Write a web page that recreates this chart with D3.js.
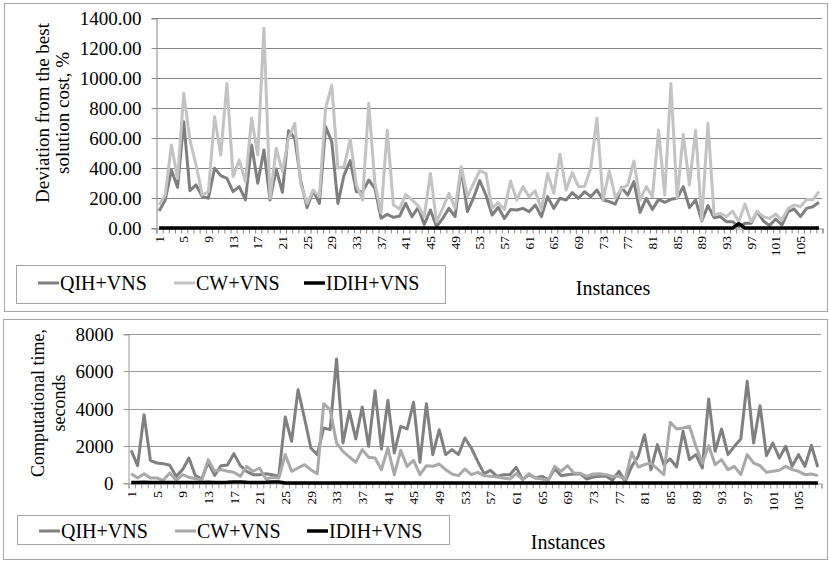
<!DOCTYPE html>
<html>
<head>
<meta charset="utf-8">
<script src="https://cdn.jsdelivr.net/npm/d3@7"></script>
<style>
  html, body { margin: 0; padding: 0; background: #fff; }
  svg { display: block; }
  text { font-family: "Liberation Serif", "Times New Roman", serif; fill: #000; }
</style>
</head>
<body>
<svg id="chart" width="829" height="561"></svg>
<script>
// Instance numbers 1..108
const instances = d3.range(1, 109);
// Every fourth instance is labelled on the category axis
const instanceTickLabels = instances.filter(d => (d - 1) % 4 === 0);

const seriesNames = ["QIH+VNS", "CW+VNS", "IDIH+VNS"];

// Deviation from the best solution cost, %
const devQIH = [113,187,387,271,709,249,287,209,198,398,349,331,242,276,187,553,298,520,187,393,
  238,649,598,309,136,249,164,676,576,164,353,449,242,242,320,264,65,91,71,80,
  164,76,136,24,120,9,64,131,76,398,109,202,316,220,87,138,64,124,120,131,
  109,153,76,209,131,198,187,236,198,242,209,253,187,176,160,269,220,309,104,198,
  124,191,171,191,198,276,136,187,47,149,69,76,42,42,9,31,31,109,47,16,
  60,20,109,127,76,131,142,171];
const devCW = [153,220,553,331,898,587,420,220,242,742,487,964,342,453,309,731,487,1331,198,531,
  376,598,698,287,164,253,209,798,953,398,409,593,287,187,831,298,100,653,153,127,
  224,187,149,76,364,42,131,231,131,409,209,298,382,364,131,169,124,313,187,276,
  209,247,124,364,231,491,253,371,276,276,398,731,187,380,202,264,287,447,187,276,
  209,653,220,964,198,624,287,653,53,698,87,98,76,113,42,160,42,109,76,64,
  93,53,131,153,142,191,187,242];
const devIDIH = [0,0,0,0,0,0,0,0,0,0,0,0,0,0,0,0,0,0,0,0,
  0,0,0,0,0,0,0,0,0,0,0,0,0,0,0,0,0,0,0,0,
  0,0,0,0,0,0,0,0,0,0,0,0,0,0,0,0,0,0,0,0,
  0,0,0,0,0,0,0,0,0,0,0,0,0,0,0,0,0,0,0,0,
  0,0,0,0,0,0,0,0,0,0,0,0,0,0,28,0,0,0,0,0,
  0,0,0,0,0,0,0,0];
const devTicks = [0,200,400,600,800,1000,1200,1400];

// Computational time, seconds
const timeQIH = [1754,931,3670,1200,1074,1038,949,358,716,1343,394,215,1110,412,931,967,1575,931,627,448,
  448,501,448,358,3544,2238,5012,3490,1880,1522,2953,2864,6659,2148,3849,2370,4081,1969,4958,1826,
  4439,1611,3043,2900,4332,1110,4260,1522,2864,1522,1790,1522,2416,1880,1163,501,680,358,448,448,
  841,179,448,268,358,179,752,394,448,483,480,215,322,358,358,143,627,90,895,1432,
  2595,716,2059,985,1289,859,2775,1253,1522,806,4511,1700,2900,1522,1969,2363,5460,2148,4153,1468,
  2148,1343,1969,895,1522,895,2023,859];
const timeCW = [501,268,501,268,268,143,537,143,448,304,233,179,1253,627,716,627,573,358,895,627,
  806,215,304,268,1522,627,806,985,716,501,4260,3938,2148,1700,1396,1110,1790,1378,1343,716,
  1879,448,1754,895,1217,448,931,895,1020,716,483,394,752,448,573,394,358,322,268,215,
  501,179,501,268,215,143,895,627,931,537,520,358,483,501,448,358,358,215,1647,859,
  985,1074,752,448,3258,2900,2954,3043,1969,1074,2005,985,1253,716,895,448,1522,1074,931,573,
  627,680,895,716,627,448,483,394];
const timeIDIH = [30,25,35,30,30,25,30,25,30,30,25,30,35,30,30,40,60,55,35,30,
  30,35,60,55,0,0,0,0,0,0,0,0,0,0,0,0,0,0,0,0,
  0,0,0,0,0,0,0,0,0,0,0,0,0,0,0,0,0,0,0,0,
  0,0,0,0,0,0,0,0,0,0,0,0,0,0,0,0,0,0,0,0,
  0,0,0,0,0,0,0,0,0,0,0,0,0,0,0,0,0,0,0,0,
  0,0,0,0,0,0,0,0];
const timeTicks = [0,2000,4000,6000,8000];

const svg = d3.select("#chart");

function drawPanel(cfg) {
  const g = svg.append("g");

  // outer frame
  g.append("rect")
    .attr("x", cfg.frame[0] + 0.5).attr("y", cfg.frame[1] + 0.5)
    .attr("width", cfg.frame[2]).attr("height", cfg.frame[3])
    .attr("fill", "#fff").attr("stroke", "#a6a6a6").attr("stroke-width", 1);

  const x = d3.scaleBand().domain(instances).range([cfg.x0, cfg.x1]).padding(0);
  const xEdge = d3.scaleLinear().domain([0, instances.length]).range([cfg.x0, cfg.x1]);
  const y = d3.scaleLinear().domain([0, cfg.yMax]).range([cfg.y0, cfg.y1]);
  const cx = d => x(d) + x.bandwidth() / 2;

  // horizontal gridlines
  g.append("g").selectAll("line").data(cfg.ticks.filter(t => t > 0)).join("line")
    .attr("x1", cfg.x0).attr("x2", cfg.x1)
    .attr("y1", d => Math.round(y(d)) + 0.5).attr("y2", d => Math.round(y(d)) + 0.5)
    .attr("stroke", cfg.grid).attr("stroke-width", 1);

  // value axis
  const yAxis = g.append("g")
    .attr("transform", `translate(${cfg.x0 + 0.5},0.5)`)
    .call(d3.axisLeft(y).tickValues(cfg.ticks).tickSize(5).tickPadding(10).tickFormat(cfg.fmt));
  yAxis.select(".domain").attr("stroke", cfg.grid);
  yAxis.selectAll(".tick line").attr("stroke", cfg.grid);
  yAxis.selectAll(".tick text")
    .style("font-family", "Liberation Serif").style("font-size", cfg.yFont + "px").attr("fill", "#000");
  yAxis.selectAll(".tick").attr("transform", d => `translate(0,${Math.round(y(d))})`);

  // category axis: tick marks at category boundaries
  const xAxis = g.append("g")
    .attr("transform", `translate(0.5,${Math.round(cfg.y0) + 0.5})`)
    .call(d3.axisBottom(xEdge).tickValues(d3.range(0, instances.length + 1)).tickSize(5).tickFormat(""));
  xAxis.select(".domain").attr("stroke", cfg.grid);
  xAxis.selectAll(".tick line").attr("stroke", cfg.grid);

  // category labels, rotated
  g.append("g").selectAll("text").data(instanceTickLabels).join("text")
    .attr("transform", d => `translate(${cx(d)},${cfg.y0 + 8}) rotate(-90)`)
    .attr("text-anchor", "end").attr("dy", "0.35em")
    .style("font-size", cfg.xFont + "px")
    .text(d => d);

  // series
  const line = d3.line().x((d, i) => cx(instances[i])).y(d => y(d));
  cfg.series.forEach((s, k) => {
    g.append("path").datum(s)
      .attr("fill", "none").attr("stroke", cfg.colors[k])
      .attr("stroke-width", k === 2 ? 3.5 : 3).attr("stroke-linejoin", "round")
      .attr("d", line);
  });

  // value axis title
  cfg.title.forEach((t, i) => {
    g.append("text")
      .attr("transform", `translate(${cfg.titleX[i]},${cfg.titleY}) rotate(-90)`)
      .attr("text-anchor", "middle")
      .style("font-size", cfg.titleFont + "px")
      .text(t);
  });

  // legend
  const lg = g.append("g");
  lg.append("rect")
    .attr("x", cfg.legend[0] + 0.5).attr("y", cfg.legend[1] + 0.5)
    .attr("width", cfg.legend[2]).attr("height", cfg.legend[3])
    .attr("fill", "#fff").attr("stroke", "#a6a6a6");
  const ly = cfg.legend[1] + cfg.legendMid;
  seriesNames.forEach((name, k) => {
    const lx = cfg.legendX[k];
    lg.append("line").attr("x1", lx).attr("x2", lx + 21).attr("y1", ly).attr("y2", ly)
      .attr("stroke", cfg.colors[k]).attr("stroke-width", k === 2 ? 3.5 : 3);
    lg.append("text").attr("x", lx + 22).attr("y", ly).attr("dy", "0.35em")
      .style("font-size", cfg.legendFont + "px").text(name);
  });

  // category axis title
  g.append("text").attr("x", cfg.instX).attr("y", cfg.instY)
    .attr("text-anchor", "middle").style("font-size", cfg.legendFont + "px").text("Instances");
}

drawPanel({
  frame: [4, 3, 823, 308],
  x0: 156, x1: 822, y0: 228, y1: 18, yMax: 1400,
  ticks: devTicks, fmt: d3.format(".2f"),
  grid: "#868686",
  colors: ["#7f7f7f", "#c3c3c3", "#000000"],
  series: [devQIH, devCW, devIDIH],
  yFont: 19, xFont: 13.5,
  title: ["Deviation from the best", "solution cost, %"],
  titleX: [49, 69], titleY: 113, titleFont: 19,
  legend: [16, 265, 429, 38], legendMid: 18, legendX: [38, 174, 304], legendFont: 20,
  instX: 613, instY: 295
});

drawPanel({
  frame: [3, 319, 824, 240],
  x0: 128, x1: 821, y0: 483, y1: 334, yMax: 8000,
  ticks: timeTicks, fmt: d3.format("d"),
  grid: "#9a9a9a",
  colors: ["#808080", "#a9a9a9", "#000000"],
  series: [timeQIH, timeCW, timeIDIH],
  yFont: 19, xFont: 13.5,
  title: ["Computational time,", "seconds"],
  titleX: [44, 65], titleY: 403, titleFont: 18,
  legend: [17, 515, 432, 29], legendMid: 16, legendX: [39, 175, 307], legendFont: 20,
  instX: 568, instY: 549
});
</script>
</body>
</html>
